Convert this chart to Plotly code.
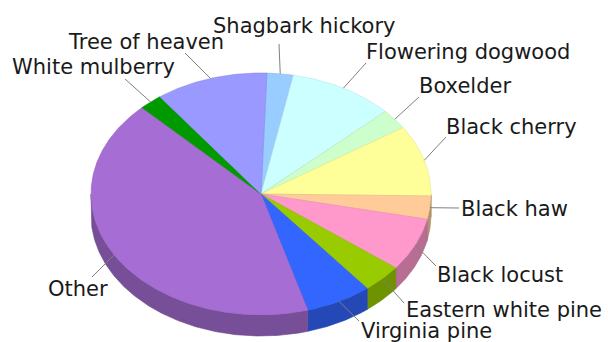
import numpy as np
import plotly.graph_objects as go

# Tree species composition (percent of stems)
species = ["Shagbark hickory", "Flowering dogwood", "Boxelder", "Black cherry",
           "Black haw", "Black locust", "Eastern white pine", "Virginia pine",
           "Other", "White mulberry", "Tree of heaven"]
shares = [2.5, 10.0, 2.7, 9.5, 3.1, 7.1, 3.8, 6.3, 42.1, 2.2, 10.7]
colors = ["#99ccff", "#ccffff", "#ccffcc", "#ffff99", "#ffcc99", "#ff99cc",
          "#99cc00", "#3366ff", "#a66dd4", "#009900", "#9999ff"]

# Pie geometry (pixel frame of the 608x342 page)
W, H = 608, 342
CX, CY, R = 261.0, 194.0, 170.0     # centre and horizontal radius, px
TILT = 121.0 / 170.0                 # vertical squash of the top face
DEPTH = 21.0 / R                     # thickness of the disc (data units)
START = 2.0                          # first slice starts this many degrees clockwise from 12 o'clock

# Label placement: left edge x, vertical middle y, leader end x, leader end y (px)
label_pos = {
    "Shagbark hickory":   (211, 26, 279, 44),
    "Flowering dogwood":  (364, 52, 366, 63),
    "Boxelder":           (417, 86, 419, 97),
    "Black cherry":       (444, 127, 446, 137),
    "Black haw":          (459, 209, 459, 208),
    "Black locust":       (435, 275, 436, 266),
    "Eastern white pine": (404, 310, 404, 303),
    "Virginia pine":      (359, 331, 359, 321),
    "Other":              (46, 289, 92, 277),
    "White mulberry":     (10, 67, 125, 79),
    "Tree of heaven":     (66, 42, 185, 53),
}


def px(x):
    return (x - CX) / R


def py(y):
    return (CY - y) / R


def rim(theta_deg, drop=0.0):
    t = np.radians(theta_deg)
    return np.sin(t), TILT * np.cos(t) - drop


def shade(hex_color, f):
    h = hex_color.lstrip("#")
    r, g, b = (int(h[i:i + 2], 16) for i in (0, 2, 4))
    return "rgb(%d,%d,%d)" % (r * f, g * f, b * f)


total = float(sum(shares))
bounds = START + 360.0 * np.concatenate([[0.0], np.cumsum(shares)]) / total

fig = go.Figure()

# Front side wall of the disc (visible between 90 and 270 degrees)
for i, name in enumerate(species):
    a0, a1 = max(bounds[i], 90.0), min(bounds[i + 1], 270.0)
    if a1 <= a0:
        continue
    th = np.linspace(a0, a1, max(int((a1 - a0) * 2), 4))
    xt, yt = rim(th)
    xb, yb = rim(th[::-1], DEPTH)
    fig.add_trace(go.Scatter(
        x=np.concatenate([xt, xb, xt[:1]]), y=np.concatenate([yt, yb, yt[:1]]),
        mode="lines", fill="toself", fillcolor=shade(colors[i], 0.72),
        line=dict(color=shade(colors[i], 0.66), width=0.6),
        hoverinfo="skip", showlegend=False))

# Top face slices
for i, name in enumerate(species):
    a0, a1 = bounds[i], bounds[i + 1]
    th = np.linspace(a0, a1, max(int((a1 - a0) * 2), 4))
    xt, yt = rim(th)
    fig.add_trace(go.Scatter(
        x=np.concatenate([[0.0], xt, [0.0]]), y=np.concatenate([[0.0], yt, [0.0]]),
        mode="lines", fill="toself", fillcolor=colors[i],
        line=dict(color=shade(colors[i], 0.9), width=0.6),
        name=name, text=["%s: %.1f%%" % (name, shares[i])] * (len(th) + 2),
        hoverinfo="text", showlegend=False))

# Leader lines and labels
for i, name in enumerate(species):
    mid = 0.5 * (bounds[i] + bounds[i + 1])
    ax_, ay_ = rim(mid)
    lx, ly, ex, ey = label_pos[name]
    fig.add_trace(go.Scatter(
        x=[ax_, px(ex)], y=[ay_, py(ey)], mode="lines",
        line=dict(color="#808080", width=1), hoverinfo="skip", showlegend=False))
    fig.add_annotation(
        x=px(lx), y=py(ly), xref="x", yref="y", text=name, showarrow=False,
        xanchor="left", yanchor="middle",
        font=dict(family="DejaVu Sans", size=21, color="#1a1a1a"))

fig.update_layout(
    width=W, height=H, margin=dict(l=0, r=0, t=0, b=0),
    paper_bgcolor="white", plot_bgcolor="white",
    xaxis=dict(range=[px(0), px(W)], visible=False, fixedrange=True),
    yaxis=dict(range=[py(H), py(0)], visible=False, fixedrange=True),
)

fig.write_html("out.html")
